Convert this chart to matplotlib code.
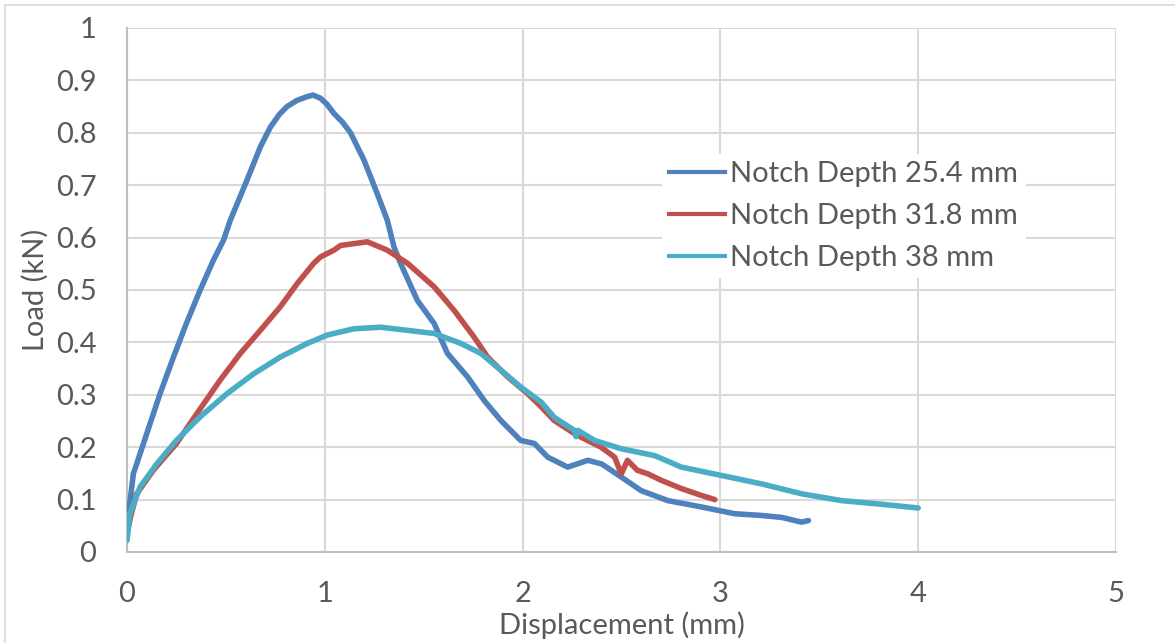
import matplotlib
matplotlib.use('Agg')
import matplotlib.pyplot as plt
from matplotlib.lines import Line2D

plt.rcParams['font.family'] = ['Lato', 'DejaVu Sans']

# Notch depth 25.4 mm
x_254 = [0.0, 0.01, 0.032, 0.10, 0.167, 0.235, 0.30, 0.37, 0.437, 0.488, 0.522, 0.607,
         0.674, 0.725, 0.77, 0.809, 0.86, 0.911, 0.94, 0.978, 1.01, 1.046, 1.09, 1.13,
         1.198, 1.265, 1.316, 1.35, 1.384, 1.468, 1.553, 1.62, 1.722, 1.806, 1.89, 1.99,
         2.06, 2.127, 2.228, 2.33, 2.40, 2.499, 2.60, 2.735, 2.904, 3.073, 3.20, 3.31,
         3.41, 3.445]
y_254 = [0.03, 0.08, 0.149, 0.226, 0.302, 0.372, 0.436, 0.50, 0.557, 0.595, 0.633, 0.71,
         0.773, 0.811, 0.835, 0.85, 0.862, 0.869, 0.872, 0.866, 0.855, 0.837, 0.82, 0.80,
         0.748, 0.684, 0.633, 0.582, 0.55, 0.48, 0.436, 0.379, 0.334, 0.289, 0.251, 0.213,
         0.207, 0.181, 0.162, 0.175, 0.168, 0.143, 0.117, 0.098, 0.086, 0.073, 0.070, 0.066,
         0.057, 0.060]

# Notch depth 31.8 mm
x_318 = [0.0, 0.02, 0.049, 0.133, 0.25, 0.353, 0.471, 0.573, 0.674, 0.775, 0.86, 0.944,
         0.978, 1.046, 1.08, 1.215, 1.316, 1.418, 1.553, 1.654, 1.755, 1.823, 1.925, 2.026,
         2.094, 2.16, 2.262, 2.296, 2.397, 2.465, 2.499, 2.53, 2.58, 2.634, 2.70, 2.803,
         2.904, 2.972]
y_318 = [0.035, 0.07, 0.111, 0.156, 0.207, 0.264, 0.328, 0.379, 0.423, 0.468, 0.512, 0.551,
         0.563, 0.576, 0.585, 0.592, 0.576, 0.551, 0.506, 0.461, 0.41, 0.372, 0.334, 0.302,
         0.277, 0.251, 0.226, 0.219, 0.20, 0.181, 0.149, 0.175, 0.156, 0.149, 0.137, 0.121,
         0.108, 0.10]

# Notch depth 38 mm
x_38 = [0.0, 0.015, 0.066, 0.15, 0.25, 0.37, 0.505, 0.64, 0.775, 0.911, 1.012, 1.147,
        1.282, 1.418, 1.553, 1.688, 1.789, 1.89, 1.99, 2.094, 2.16, 2.262, 2.27, 2.28,
        2.363, 2.499, 2.667, 2.803, 3.006, 3.208, 3.411, 3.614, 3.817, 4.0]
y_38 = [0.022, 0.073, 0.124, 0.168, 0.213, 0.258, 0.302, 0.34, 0.372, 0.398, 0.414, 0.426,
        0.429, 0.423, 0.417, 0.398, 0.379, 0.347, 0.315, 0.286, 0.257, 0.232, 0.22, 0.232,
        0.213, 0.197, 0.184, 0.162, 0.146, 0.13, 0.111, 0.098, 0.091, 0.084]

labels = ['Notch Depth 25.4 mm', 'Notch Depth 31.8 mm', 'Notch Depth 38 mm']
colors = ['#4f81bd', '#c0504d', '#4bacc6']
xticks = [0, 1, 2, 3, 4, 5]
yticks = [0, 0.1, 0.2, 0.3, 0.4, 0.5, 0.6, 0.7, 0.8, 0.9, 1]
ytick_labels = ['0', '0.1', '0.2', '0.3', '0.4', '0.5', '0.6', '0.7', '0.8', '0.9', '1']

txt = '#595959'
fs = 21
fig = plt.figure(figsize=(11.75, 6.43), dpi=100)
ax = fig.add_axes([127 / 1175, 1 - 552 / 643, (1116 - 127) / 1175, (552 - 28) / 643])

series = [(x_254, y_254), (x_318, y_318), (x_38, y_38)]
for (xs, ys), col, lab in zip(series, colors, labels):
    ax.plot(xs, ys, color=col, lw=4, label=lab, solid_capstyle='round',
            solid_joinstyle='round', zorder=3)

ax.set_xlim(0, 5)
ax.set_ylim(0, 1)
ax.set_xticks(xticks)
ax.set_yticks(yticks)
ax.set_yticklabels(ytick_labels)
ax.grid(True, color='#d9d9d9', lw=1.5)
ax.set_axisbelow(True)
ax.tick_params(length=0, labelsize=fs, labelcolor=txt)
ax.tick_params(axis='x', pad=21)
ax.tick_params(axis='y', pad=22)
for s in ['top', 'right']:
    ax.spines[s].set_visible(False)
for s in ['left', 'bottom']:
    ax.spines[s].set_color('#bfbfbf')
    ax.spines[s].set_linewidth(1.5)

ax.set_xlabel('Displacement (mm)', fontsize=fs, color=txt, labelpad=3)
ax.set_ylabel('Load (kN)', fontsize=fs, color=txt, labelpad=5)

handles = [Line2D([], [], color=c, lw=3) for c in colors]
leg = ax.legend(handles, labels, loc='center left', bbox_to_anchor=(0.526, 0.641),
                fontsize=fs, frameon=True, fancybox=False, edgecolor='none',
                facecolor='white', framealpha=1, handlelength=1.9, handletextpad=0.2,
                labelspacing=0.55, borderpad=0.25, labelcolor=txt)

# outer chart border (top and left visible)
fig.add_artist(Line2D([5 / 1175, 1], [1 - 5 / 643, 1 - 5 / 643], color='#d9d9d9', lw=1.2))
fig.add_artist(Line2D([5 / 1175, 5 / 1175], [0, 1 - 5 / 643], color='#d9d9d9', lw=1.2))

fig.savefig('out.png', dpi=100)
